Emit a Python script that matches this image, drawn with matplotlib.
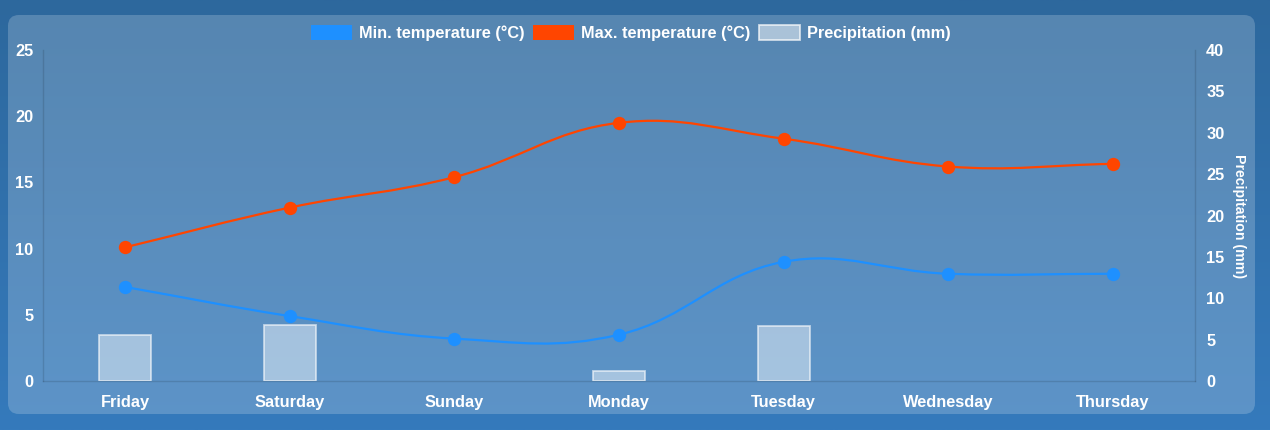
import numpy as np
import matplotlib
matplotlib.use("Agg")
import matplotlib.pyplot as plt
from matplotlib.path import Path
from matplotlib.patches import PathPatch, FancyBboxPatch, Patch

days = ["Friday", "Saturday", "Sunday", "Monday", "Tuesday", "Wednesday", "Thursday"]
min_temp = [7.1, 4.9, 3.2, 3.5, 9.0, 8.1, 8.1]
max_temp = [10.1, 13.1, 15.4, 19.5, 18.3, 16.2, 16.4]
precip = [5.6, 6.8, 0.0, 1.2, 6.6, 0.0, 0.0]

MIN_COL = "#1e90ff"
MAX_COL = "#ff4500"

plt.rcParams["font.family"] = ["Liberation Sans", "DejaVu Sans"]
plt.rcParams["font.weight"] = "bold"

W, H = 1270, 430
fig = plt.figure(figsize=(W / 100, H / 100), dpi=100)

# background gradient + translucent rounded panel
bg = fig.add_axes([0, 0, 1, 1], zorder=-10)
top = np.array([45, 104, 157]) / 255
bot = np.array([53, 122, 188]) / 255
t = np.linspace(0, 1, 200)[:, None, None]
grad = top * (1 - t) + bot * t
grad = np.repeat(grad, 2, axis=1)
bg.imshow(grad, extent=(0, W, H, 0), aspect="auto")
bg.add_patch(FancyBboxPatch((8, 15), 1247, 399,
                            boxstyle="round,pad=0,rounding_size=11",
                            facecolor=(1, 1, 1, 0.2), edgecolor="none"))
bg.set_xlim(0, W)
bg.set_ylim(H, 0)
bg.axis("off")

left, right, bottom, topy = 43, 1195, 381, 50
ax = fig.add_axes([left / W, (H - bottom) / H, (right - left) / W, (bottom - topy) / H])
ax2 = ax.twinx()
ax.set_zorder(ax2.get_zorder() + 1)
ax.patch.set_visible(False)

x = np.arange(len(days))
ax.set_xlim(-0.5, len(days) - 0.5)
ax.set_ylim(0, 25)
ax2.set_ylim(0, 40)

# zero-height bars get no edge
edge_w = [1.3 if p > 0 else 0 for p in precip]
ax2.bar(x, precip, width=0.316, color=(1, 1, 1, 0.45),
        edgecolor=(1, 1, 1, 0.6), linewidth=edge_w)

# chart.js style spline (tension 0.4) computed in pixel space
sx = (right - left) / len(days)
sy = (bottom - topy) / 25.0


def spline_path(xs, ys, tension=0.4):
    px = np.asarray(xs, float) * sx
    py = np.asarray(ys, float) * sy
    n = len(px)
    cps = []
    for i in range(n):
        p0 = (px[max(i - 1, 0)], py[max(i - 1, 0)])
        p1 = (px[i], py[i])
        p2 = (px[min(i + 1, n - 1)], py[min(i + 1, n - 1)])
        d01 = np.hypot(p1[0] - p0[0], p1[1] - p0[1])
        d12 = np.hypot(p2[0] - p1[0], p2[1] - p1[1])
        tot = d01 + d12
        s01 = d01 / tot if tot else 0
        s12 = d12 / tot if tot else 0
        fa, fb = tension * s01, tension * s12
        prev = (p1[0] - fa * (p2[0] - p0[0]), p1[1] - fa * (p2[1] - p0[1]))
        nxt = (p1[0] + fb * (p2[0] - p0[0]), p1[1] + fb * (p2[1] - p0[1]))
        cps.append((prev, nxt))
    verts = [(px[0], py[0])]
    codes = [Path.MOVETO]
    for i in range(1, n):
        verts += [cps[i - 1][1], cps[i][0], (px[i], py[i])]
        codes += [Path.CURVE4] * 3
    verts = [(vx / sx, vy / sy) for vx, vy in verts]
    return Path(verts, codes)


for vals, col in [(min_temp, MIN_COL), (max_temp, MAX_COL)]:
    ax.add_patch(PathPatch(spline_path(x, vals), fill=False, edgecolor=col,
                           linewidth=1.6, zorder=3))
    ax.plot(x, vals, "o", color=col, markersize=9.6, markeredgewidth=0, zorder=4)

spine_col = (0, 0, 0, 0.12)
for a in (ax, ax2):
    for s in a.spines.values():
        s.set_visible(False)
ax.spines["left"].set_visible(True)
ax.spines["bottom"].set_visible(True)
ax2.spines["right"].set_visible(True)
for s in (ax.spines["left"], ax.spines["bottom"], ax2.spines["right"]):
    s.set_color(spine_col)
    s.set_linewidth(1.0)

ax.set_xticks(x)
ax.set_xticklabels(days)
ax.set_yticks(np.arange(0, 26, 5))
ax2.set_yticks(np.arange(0, 41, 5))
ax.tick_params(axis="x", length=0, pad=10, labelsize=11.8, labelcolor="white")
ax.tick_params(axis="y", length=0, pad=7, labelsize=11.8, labelcolor="white")
ax2.tick_params(axis="y", length=0, pad=8, labelsize=11.8, labelcolor="white")

fig.text(1239 / W, 1 - 216 / H, "Precipitation (mm)", rotation=270,
         ha="center", va="center", color="white", fontsize=10.2, fontweight="bold")

handles = [Patch(facecolor=MIN_COL, edgecolor="none"),
           Patch(facecolor=MAX_COL, edgecolor="none"),
           Patch(facecolor=(1, 1, 1, 0.5), edgecolor=(1, 1, 1, 0.7), linewidth=1.3)]
labels = ["Min. temperature (°C)", "Max. temperature (°C)", "Precipitation (mm)"]
fig.legend(handles, labels, loc="center", bbox_to_anchor=(631 / W, 1 - 33 / H),
           ncol=3, frameon=False, handlelength=2.5, handleheight=1.0,
           handletextpad=0.45, columnspacing=0.5, labelcolor="white",
           prop={"size": 11.8, "weight": "bold"})

fig.savefig("out.png", dpi=100)
